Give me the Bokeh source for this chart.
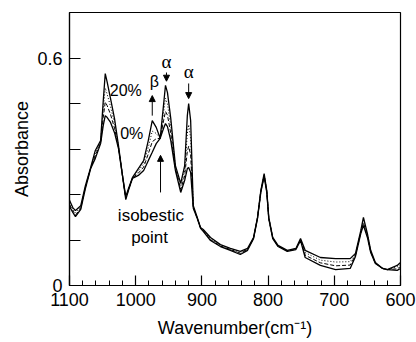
from bokeh.plotting import figure
from bokeh.models import Range1d, FixedTicker, Arrow, NormalHead, Label, Title
from bokeh.embed import file_html
from bokeh.resources import INLINE

# ---------------- data ----------------
wavenumber = [1100, 1095, 1091, 1083, 1076, 1068, 1061, 1053, 1049, 1046, 1043, 1038,
              1032, 1026, 1020, 1015, 1011, 1005, 996, 988, 981, 975, 969, 963, 958,
              955, 952, 947, 940, 932, 926, 922, 920, 917, 913, 907, 902, 898, 887,
              872, 857, 842, 831, 822, 816, 811, 806, 802, 799, 793, 785, 771, 758,
              751, 744, 721, 698, 676, 668, 660, 656, 650, 645, 638, 627, 620, 605, 600]

abs_20 = [0.225, 0.206, 0.198, 0.211, 0.264, 0.312, 0.357, 0.383, 0.489, 0.560, 0.537, 0.494,
          0.441, 0.370, 0.291, 0.235, 0.256, 0.285, 0.309, 0.330, 0.383, 0.436, 0.418, 0.389, 0.476,
          0.529, 0.510, 0.441, 0.317, 0.270, 0.317, 0.449, 0.481, 0.436, 0.211, 0.180, 0.153, 0.148, 0.127,
          0.108, 0.098, 0.090, 0.098, 0.127, 0.180, 0.251, 0.296, 0.251, 0.180, 0.127, 0.106, 0.093, 0.098,
          0.124, 0.093, 0.074, 0.071, 0.071, 0.085, 0.145, 0.180, 0.137, 0.093, 0.061, 0.045, 0.042, 0.053, 0.061]

abs_14 = [0.220, 0.202, 0.192, 0.207, 0.261, 0.311, 0.350, 0.380, 0.468, 0.522, 0.505, 0.473,
          0.428, 0.367, 0.291, 0.232, 0.254, 0.284, 0.303, 0.322, 0.365, 0.408, 0.402, 0.389, 0.456,
          0.495, 0.480, 0.421, 0.313, 0.262, 0.303, 0.402, 0.425, 0.390, 0.209, 0.179, 0.152, 0.146, 0.124,
          0.106, 0.096, 0.087, 0.096, 0.126, 0.179, 0.249, 0.293, 0.249, 0.179, 0.126, 0.105, 0.092, 0.097,
          0.122, 0.087, 0.067, 0.062, 0.063, 0.082, 0.142, 0.172, 0.134, 0.091, 0.060, 0.045, 0.042, 0.049, 0.056]

abs_7 = [0.214, 0.198, 0.186, 0.204, 0.259, 0.310, 0.343, 0.378, 0.445, 0.485, 0.475, 0.452,
         0.416, 0.365, 0.291, 0.230, 0.252, 0.284, 0.297, 0.313, 0.348, 0.380, 0.388, 0.389, 0.435,
         0.460, 0.450, 0.402, 0.309, 0.254, 0.290, 0.355, 0.368, 0.345, 0.206, 0.178, 0.152, 0.145, 0.121,
         0.104, 0.095, 0.085, 0.095, 0.125, 0.178, 0.248, 0.291, 0.248, 0.178, 0.125, 0.104, 0.091, 0.096,
         0.121, 0.080, 0.060, 0.052, 0.054, 0.080, 0.140, 0.166, 0.130, 0.089, 0.059, 0.045, 0.042, 0.044, 0.050]

abs_0 = [0.209, 0.193, 0.182, 0.201, 0.256, 0.309, 0.336, 0.375, 0.423, 0.449, 0.444, 0.431,
         0.404, 0.362, 0.291, 0.227, 0.251, 0.283, 0.291, 0.304, 0.330, 0.352, 0.375, 0.389, 0.415,
         0.428, 0.420, 0.383, 0.304, 0.246, 0.278, 0.309, 0.312, 0.299, 0.204, 0.177, 0.151, 0.143, 0.119,
         0.103, 0.093, 0.082, 0.093, 0.124, 0.177, 0.246, 0.288, 0.246, 0.177, 0.124, 0.103, 0.090, 0.095,
         0.119, 0.074, 0.053, 0.042, 0.045, 0.077, 0.137, 0.159, 0.127, 0.087, 0.058, 0.045, 0.042, 0.040, 0.045]

x_ticks_major = [1100, 1000, 900, 800, 700, 600]
x_ticks_minor = list(range(600, 1101, 20))
y_ticks = [0.0, 0.12, 0.24, 0.36, 0.48, 0.6]
y_tick_labels = {0.0: "0", 0.12: "", 0.24: "", 0.36: "", 0.48: "", 0.6: "0.6"}

x_title = "Wavenumber(cm⁻¹)"
y_title = "Absorbance"

# ---------------- figure ----------------
FONT = "Liberation Sans"
p = figure(width=416, height=342, output_backend="svg", toolbar_location=None,
           x_range=Range1d(1100, 600), y_range=Range1d(0, 0.7216),
           min_border_left=69, min_border_right=16, min_border_top=12, min_border_bottom=57)
p.grid.visible = False
p.background_fill_color = "white"
p.border_fill_color = "white"
p.outline_line_color = "black"
p.outline_line_width = 1.2

styles = [(abs_0, None, 1.3), (abs_7, "4 2", 1.0), (abs_14, "1 2", 1.0), (abs_20, None, 1.3)]
for ys, dash, lw in styles:
    if dash:
        p.line(wavenumber, ys, line_color="black", line_width=lw, line_dash=dash)
    else:
        p.line(wavenumber, ys, line_color="black", line_width=lw)

xa = p.xaxis[0]
xa.ticker = FixedTicker(ticks=x_ticks_major, minor_ticks=x_ticks_minor)
xa.major_tick_in = 10
xa.major_tick_out = 0
xa.minor_tick_in = 5
xa.minor_tick_out = 0
xa.axis_line_width = 1.2
xa.major_tick_line_width = 1.2
xa.major_label_text_font = FONT
xa.major_label_text_font_size = "18px"
xa.major_label_text_color = "black"
xa.major_label_standoff = 7
xa.axis_label = x_title
xa.axis_label_text_font = FONT
xa.axis_label_text_font_size = "18px"
xa.axis_label_text_font_style = "normal"
xa.axis_label_text_color = "black"
xa.axis_label_standoff = 9

ya = p.yaxis[0]
ya.ticker = FixedTicker(ticks=y_ticks)
ya.major_label_overrides = y_tick_labels
ya.major_tick_in = 11
ya.major_tick_out = 0
ya.minor_tick_line_color = None
ya.axis_line_width = 1.2
ya.major_tick_line_width = 1.2
ya.major_label_text_font = FONT
ya.major_label_text_font_size = "18px"
ya.major_label_text_color = "black"
ya.major_label_standoff = 7

p.add_layout(Title(text=y_title, align="center", offset=14, standoff=6,
                   text_font=FONT, text_font_size="18px", text_font_style="normal",
                   text_color="black"), "left")

# ---------------- annotations ----------------
def lab(x, y, t, size="16px", font=FONT, align="center"):
    p.add_layout(Label(x=x, y=y, text=t, text_font=font, text_font_size=size,
                       text_align=align, text_baseline="middle", text_color="black"))

lab(953.5, 0.592, "α", "19px", "Liberation Serif")
lab(920, 0.565, "α", "19px", "Liberation Serif")
lab(972, 0.539, "β", "16px")
lab(1015, 0.515, "20%", "16px")
lab(1006, 0.402, "0%", "16px")
lab(977, 0.185, "isobestic", "17px")
lab(979, 0.127, "point", "17px")

def arr(x0, y0, x1, y1):
    p.add_layout(Arrow(end=NormalHead(size=6, fill_color="black", line_color="black"),
                       x_start=x0, y_start=y0, x_end=x1, y_end=y1,
                       line_color="black", line_width=1))

arr(953.5, 0.563, 953.5, 0.540)
arr(920, 0.534, 920, 0.494)
arr(975, 0.449, 975, 0.502)
arr(962.5, 0.246, 962.5, 0.344)

open("out.html", "w").write(file_html(p, INLINE))
